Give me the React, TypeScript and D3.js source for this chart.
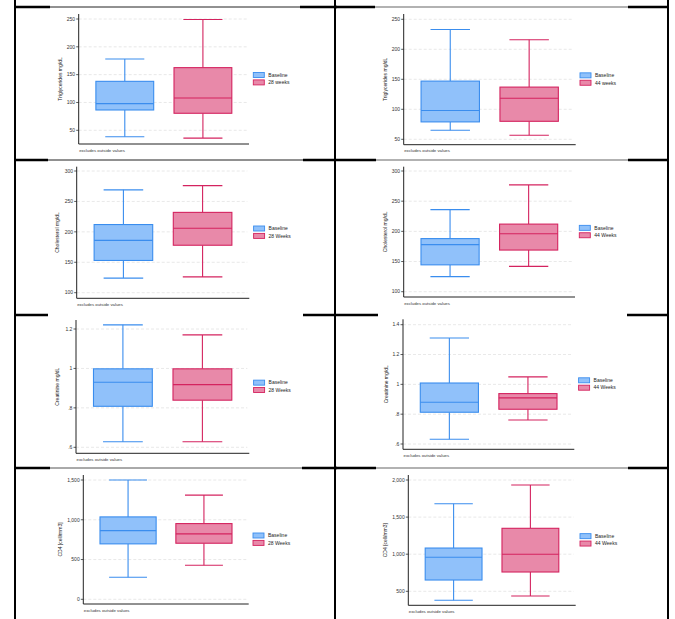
import React from "react";
import * as d3 from "d3";

// ---------- data ----------
const yAxisTitles = [
  "Triglycerides mg/dL", "Triglycerides mg/dL",
  "Cholesterol mg/dL", "Cholesterol mg/dL",
  "Creatinine mg/dL", "Creatinine mg/dL",
  "CD4 [cell/mm3]", "CD4 [cell/mm3]",
];
const baselineLabel = "Baseline";
const followUpLabels = ["28 weeks", "44 weeks", "28 Weeks", "44 Weeks", "28 Weeks", "44 Weeks", "28 Weeks", "44 Weeks"];
// [lower whisker, Q1, median, Q3, upper whisker]
const baselineStats = [
  [38.5, 86.5, 98, 138, 178],
  [65, 79, 98, 147, 233],
  [124, 153, 186, 212, 269],
  [125, 144.5, 178, 188, 236],
  [0.628, 0.808, 0.93, 0.998, 1.221],
  [0.632, 0.813, 0.88, 1.009, 1.311],
  [277, 697, 864, 1036, 1500],
  [379, 652, 958, 1083, 1680],
];
const followUpStats = [
  [36, 80.6, 108, 162.6, 249],
  [56.7, 80, 118.3, 137, 216],
  [126, 178, 206, 232, 276],
  [142, 169, 196, 212, 277],
  [0.628, 0.839, 0.918, 0.998, 1.17],
  [0.761, 0.833, 0.909, 0.938, 1.05],
  [428, 705, 822, 952, 1310],
  [437, 760, 999, 1349, 1933],
];
const yTicks = [
  [50, 100, 150, 200, 250],
  [50, 100, 150, 200, 250],
  [100, 150, 200, 250, 300],
  [100, 150, 200, 250, 300],
  [0.6, 0.8, 1, 1.2],
  [0.6, 0.8, 1, 1.2, 1.4],
  [0, 500, 1000, 1500],
  [500, 1000, 1500, 2000],
];
const footnote = "excludes outside values";

// ---------- layout (pixel geometry, not data) ----------
const layout = [
  { ax: 78.7, right: 249, top: 14, bottom: 144, t0: 130.3, t1: 19, lx: 60 },
  { ax: 403.7, right: 575.7, top: 14, bottom: 144.7, t0: 139.3, t1: 19.3, lx: 385 },
  { ax: 76.7, right: 249.3, top: 166.7, bottom: 298.3, t0: 292.7, t1: 171, lx: 57.3 },
  { ax: 403.7, right: 575, top: 166.7, bottom: 297, t0: 291.7, t1: 171, lx: 385 },
  { ax: 76, right: 249.3, top: 320, bottom: 453.3, t0: 447.3, t1: 329, lx: 57.3 },
  { ax: 403, right: 574.3, top: 319.3, bottom: 449.3, t0: 444, t1: 324.7, lx: 386.3 },
  { ax: 83.3, right: 248.7, top: 475, bottom: 604, t0: 599.3, t1: 480, lx: 60 },
  { ax: 408.3, right: 575.7, top: 475, bottom: 605.3, t0: 591.3, t1: 480, lx: 385 },
];

const colors = {
  baseFill: "#90C1FA",
  baseStroke: "#3A8DEE",
  followFill: "#E889A9",
  followStroke: "#D4235F",
};

const fmt = (v: number) => d3.format(",")(v).replace(/^0\./, ".");

function Panel({ i }: { i: number }) {
  const L = layout[i];
  const ticks = yTicks[i];
  const y = d3.scaleLinear().domain([ticks[0], ticks[ticks.length - 1]]).range([L.t0, L.t1]);
  const cats = [baselineLabel, followUpLabels[i]];
  const x = d3.scalePoint<string>().domain(cats).range([L.ax, L.right]).padding(0.59);
  const step = x.step();
  const bw = step * 0.74;
  const cw = step * 0.5;
  const series = [
    { key: cats[0], s: baselineStats[i], fill: colors.baseFill, stroke: colors.baseStroke },
    { key: cats[1], s: followUpStats[i], fill: colors.followFill, stroke: colors.followStroke },
  ];
  const mid = (L.top + L.bottom) / 2;
  const legX = L.right + 4.3;
  const legY = mid - 6.5;
  return (
    <g>
      {ticks.map((t) => (
        <g key={t}>
          <line x1={L.ax} x2={L.right - 2} y1={y(t)} y2={y(t)} stroke="#e2e2e2" strokeWidth={0.8} strokeDasharray="3,2" />
          <line x1={L.ax - 2.5} x2={L.ax} y1={y(t)} y2={y(t)} stroke="#333" strokeWidth={0.8} />
          <text x={L.ax - 3.6} y={y(t)} dy="0.35em" textAnchor="end" fontSize={5} fill="#333">{fmt(t)}</text>
        </g>
      ))}
      {series.map((d) => {
        const cx = x(d.key) as number;
        const [mn, q1, md, q3, mx] = d.s;
        return (
          <g key={d.key}>
            <line x1={cx} x2={cx} y1={y(q3)} y2={y(mx)} stroke={d.stroke} strokeWidth={1.1} />
            <line x1={cx} x2={cx} y1={y(q1)} y2={y(mn)} stroke={d.stroke} strokeWidth={1.1} />
            <line x1={cx - cw / 2} x2={cx + cw / 2} y1={y(mx)} y2={y(mx)} stroke={d.stroke} strokeWidth={1.1} />
            <line x1={cx - cw / 2} x2={cx + cw / 2} y1={y(mn)} y2={y(mn)} stroke={d.stroke} strokeWidth={1.1} />
            <rect x={cx - bw / 2} y={y(q3)} width={bw} height={y(q1) - y(q3)} fill={d.fill} stroke={d.stroke} strokeWidth={1.1} />
            <line x1={cx - bw / 2} x2={cx + bw / 2} y1={y(md)} y2={y(md)} stroke={d.stroke} strokeWidth={1.1} />
          </g>
        );
      })}
      <line x1={L.ax} x2={L.ax} y1={L.top} y2={L.bottom} stroke="#222" strokeWidth={1} />
      <line x1={L.ax} x2={L.right} y1={L.bottom} y2={L.bottom} stroke="#222" strokeWidth={1} />
      <text transform={`translate(${L.lx},${mid}) rotate(-90)`} dy="0.35em" textAnchor="middle" fontSize={5} fill="#222">{yAxisTitles[i]}</text>
      <text x={L.ax + 0.5} y={L.bottom + 7.5} fontSize={4.3} fill="#333">{footnote}</text>
      {series.map((d, k) => (
        <g key={"lg" + k}>
          <rect x={legX} y={legY + k * 7.4} width={11} height={5} fill={d.fill} stroke={d.stroke} strokeWidth={0.9} />
          <text x={legX + 15} y={legY + k * 7.4 + 2.5} dy="0.35em" fontSize={5} fill="#222">{d.key}</text>
        </g>
      ))}
    </g>
  );
}

const thickSegs = [
  { y: 7, segs: [[15, 50], [300, 337], [335, 375], [628, 669]] },
  { y: 160, segs: [[15, 48], [303, 335], [335, 376], [628, 669]] },
  { y: 315, segs: [[15, 48], [303, 335], [335, 378], [627, 669]] },
  { y: 468, segs: [[15, 50], [302, 337], [335, 376], [628, 669]] },
];
const thinSegs = [
  { y: 7, x1: 50, x2: 300, c: "#222", w: 1 },
  { y: 7, x1: 375, x2: 628, c: "#999", w: 1.5 },
  { y: 160, x1: 48, x2: 303, c: "#222", w: 1 },
  { y: 160, x1: 376, x2: 628, c: "#999", w: 1.5 },
  { y: 468, x1: 50, x2: 302, c: "#555", w: 1 },
  { y: 468, x1: 376, x2: 628, c: "#999", w: 1.5 },
];

export default function App() {
  return (
    <svg width={675} height={619} style={{ position: "absolute", left: 0, top: 0 }} fontFamily="'Liberation Sans', Arial, sans-serif">
      <rect width={675} height={619} fill="#fff" />
      {layout.map((_, i) => <Panel key={i} i={i} />)}
      {thinSegs.map((s, k) => (
        <line key={"t" + k} x1={s.x1} x2={s.x2} y1={s.y} y2={s.y} stroke={s.c} strokeWidth={s.w} />
      ))}
      {thickSegs.map((r) => r.segs.map((s, k) => (
        <line key={r.y + "-" + k} x1={s[0]} x2={s[1]} y1={r.y} y2={r.y} stroke="#000" strokeWidth={2.5} />
      )))}
      {[15, 335, 668].map((xv) => (
        <line key={xv} x1={xv} x2={xv} y1={0} y2={619} stroke="#000" strokeWidth={2} />
      ))}
    </svg>
  );
}
